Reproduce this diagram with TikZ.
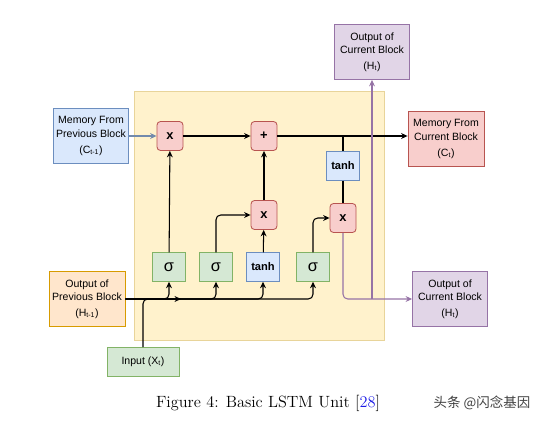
\documentclass[tikz,border=0pt]{standalone}
\usepackage{fontspec}
\newfontfamily\boxfont{Liberation Sans}
\newfontfamily\cjkfont{Noto Sans CJK SC}
\usetikzlibrary{arrows.meta}
\definecolor{bluefill}{HTML}{DAE8FC}\definecolor{bluedraw}{HTML}{6C8EBF}
\definecolor{greenfill}{HTML}{D5E8D4}\definecolor{greendraw}{HTML}{82B366}
\definecolor{redfill}{HTML}{F8CECC}\definecolor{reddraw}{HTML}{B85450}
\definecolor{orangefill}{HTML}{FFE6CC}\definecolor{orangedraw}{HTML}{D79B00}
\definecolor{purplefill}{HTML}{E1D5E7}\definecolor{purpledraw}{HTML}{9673A6}
\definecolor{cellfill}{HTML}{FFF2CC}\definecolor{celldraw}{HTML}{E8D49A}
\definecolor{citeblue}{HTML}{1A1AE6}

\begin{document}
\begin{tikzpicture}[x=0.03cm,y=-0.03cm,
    outer/.style={draw,line width=0.7pt,align=center,inner sep=0pt,minimum width=2.25cm,minimum height=1.65cm,
      font=\boxfont\fontsize{9}{11.5}\selectfont},
    gate/.style={draw,line width=0.7pt,inner sep=0pt,minimum width=0.98cm,minimum height=0.86cm},
    op/.style={draw=reddraw,fill=redfill,line width=0.7pt,rounded corners=3pt,inner sep=0pt,
      minimum width=0.78cm,minimum height=0.87cm,font=\boxfont\bfseries\fontsize{11}{11}\selectfont},
    sig/.style={gate,draw=greendraw,fill=greenfill,font=\boxfont\fontsize{14}{14}\selectfont},
    tnh/.style={gate,draw=bluedraw,fill=bluefill,font=\boxfont\bfseries\fontsize{9.5}{9.5}\selectfont},
    flow/.style={line width=0.9pt,-{Stealth[length=5.5pt,width=5pt]},rounded corners=4pt},
    outflow/.style={flow,draw=purpledraw}]
  \useasboundingbox (0,0) rectangle (550,425);
  \filldraw[fill=cellfill,draw=celldraw,line width=0.7pt] (134,91) rectangle (384,340);
  % outer blocks
  \node[outer,fill=bluefill,draw=bluedraw] (mprev) at (91,136)
    {Memory From\\Previous Block\\[2pt](C\textsubscript{t-1})};
  \node[outer,fill=orangefill,draw=orangedraw,minimum width=2.28cm] (hprev) at (87,299)
    {Output of\\Previous Block\\[2pt](H\textsubscript{t-1})};
  \node[outer,fill=greenfill,draw=greendraw,minimum width=2.16cm,minimum height=0.87cm] (input) at (143,362)
    {Input (X\textsubscript{t})};
  \node[outer,fill=purplefill,draw=purpledraw] (hout) at (372,52)
    {Output of\\Current Block\\[2pt](H\textsubscript{t})};
  \node[outer,fill=redfill,draw=reddraw,minimum width=2.28cm] (mcur) at (446,139)
    {Memory From\\Current Block\\[2pt](C\textsubscript{t})};
  \node[outer,fill=purplefill,draw=purpledraw] (hcur) at (450,299)
    {Output of\\Current Block\\[2pt](H\textsubscript{t})};
  % gates inside the cell
  \node[op] (mulf) at (170,136) {x};
  \node[op] (add)  at (264,136) {+};
  \node[op] (muli) at (264,215) {x};
  \node[op] (mulo) at (343,218) {x};
  \node[tnh] (tanhc) at (343,166) {tanh};
  \node[sig] (sigf) at (169,267) {σ};
  \node[sig] (sigi) at (216,267) {σ};
  \node[tnh] (tanhi) at (263,267) {tanh};
  \node[sig] (sigo) at (313,267) {σ};
  \coordinate (xin) at (181,299);
  \coordinate (cj) at (tanhc.north |- add.east);
  \coordinate (hj) at (hout.south |- hcur.west);
  % memory line
  \draw[flow,draw=bluedraw!70!gray] (mprev) -- (mulf);
  \draw[flow] (mulf) -- (add);
  \draw[flow] (add.east) -- (add.east -| mcur.west);
  \draw[line width=0.9pt] (cj) -- (tanhc.north);
  \draw[line width=0.9pt] (tanhc) -- (mulo);
  % gate inputs
  \draw[flow] (sigf) -- (mulf);
  \draw[flow] (sigi.north) |- (muli.west);
  \draw[flow] (tanhi) -- (muli);
  \draw[flow] (muli) -- (add);
  \draw[flow] (sigo.north) |- (mulo.west);
  \foreach \g in {sigf,sigi,tanhi,sigo}
    \draw[flow] (hprev.east) -| (\g.south);
  \draw[flow] (input.north) |- (xin);
  % outputs
  \draw[outflow] (mulo.south) |- (hcur.west);
  \draw[outflow] (hj) -- (hout.south);
  % caption
  \node[font=\fontsize{13.9}{16}\selectfont] (caption) at (268,403) {Figure 4: Basic LSTM Unit [\textcolor{citeblue}{28}]};
  \node[font=\cjkfont\fontsize{11.5}{13}\selectfont,text=black!75] (mark) at (482,403) {头条 @闪念基因};
\end{tikzpicture}
\end{document}
